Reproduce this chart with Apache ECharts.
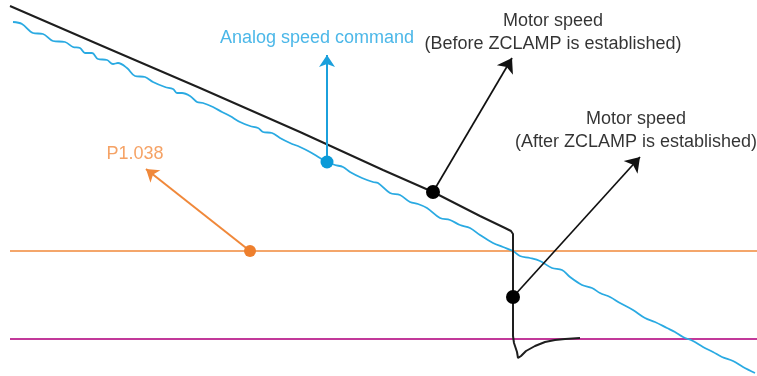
<!DOCTYPE html>
<html>
<head>
<meta charset="utf-8">
<script src="https://cdn.jsdelivr.net/npm/echarts@6/dist/echarts.min.js"></script>
<style>html,body{margin:0;padding:0;background:#fff}#c{width:757px;height:376px}</style>
</head>
<body>
<div id="c"></div>
<script>
// time axis (t) and speed axis (v); v = 0 is the zero-speed reference line
const blueT = [13,22,33,43,53,65,73,80,85,92,98,107,113,118,127,135,145,153,165,173,177,182,190,197,203,213,222,230,240,250,258,263,272,280,290,300,310,320,327,335,343,350,362,373,378,390,400,410,418,427,440,450,460,470,480,493,503,513,520,530,540,552,562,570,582,592,600,610,620,633,645,655,667,675,683,693,703,713,722,733,743,755];
const blueV = [317,315,306,305,298,297,292,291,286,286,280,279,275,276,271,263,262,257,252,250,246,246,243,237,236,232,227,223,217,213,211,207,206,201,196,192,187,181,177,174,172,167,161,157,156,146,144,137,135,131,121,119,114,111,104,96,92,88,83,81,78,71,69,62,54,51,46,42,36,29,21,17,11,7,2,-2,-8,-13,-18,-22,-28,-34];
const blackT = [10,100,200,300,383,433,480,505,511,513,513,514,515,517,518,521,526,535,545,555,565,580];
const blackV = [333,294,251,207,169,147,123,111,108,105,3,-4,-7,-13,-19,-17,-12,-7,-3,-1,0,1];
const p1038T = [10,757];
const p1038V = [88,88];
const zeroT = [10,757];
const zeroV = [0,0];
// annotation anchors: [dotT, dotV, arrowTipT, arrowTipV]
const annCommand = [327,177,327,284];
const annP1038 = [250,88,146,170];
const annBefore = [433,147,512,281];
const annAfter = [513,42,640,182];
// label anchors: [t, v, text]
const labels = [
  [317,301,'Analog speed command','#1ea5e2'],
  [135,185,'P1.038','#f38b3e'],
  [553,306,'Motor speed\n(Before ZCLAMP is established)','#000'],
  [636,208,'Motor speed\n(After ZCLAMP is established)','#000']
];

const zip = (a,b)=>a.map((x,i)=>[x,b[i]]);
const chart = echarts.init(document.getElementById('c'));
const arrow = (a,color,w,size)=>({
  type:'lines', coordinateSystem:'cartesian2d', z:5,
  symbol:['none','arrow'], symbolSize:size,
  lineStyle:{color:color,width:w,opacity:1,curveness:0},
  data:[{coords:[[a[0],a[1]],[a[2],a[3]]]}], silent:true
});
const dot = (a,color,size)=>({
  type:'scatter', z:6, symbol:'circle', symbolSize:size,
  itemStyle:{color:color,opacity:1}, data:[[a[0],a[1]]], silent:true
});
const font = "'Liberation Sans', Arial, sans-serif";
chart.setOption({
  animation:false,
  backgroundColor:'#fff',
  grid:{left:0,right:0,top:0,bottom:0},
  xAxis:{type:'value',min:0,max:757,show:false},
  yAxis:{type:'value',min:-37,max:339,show:false},
  series:[
    {type:'line',data:zip(p1038T,p1038V),symbol:'none',lineStyle:{color:'#f0883a',width:1.5},z:2},
    {type:'line',data:zip(zeroT,zeroV),symbol:'none',lineStyle:{color:'#c2399a',width:2},z:2},
    {type:'line',data:zip(blueT,blueV),symbol:'none',smooth:0.35,lineStyle:{color:'#2aaae2',width:1.8},z:3},
    {type:'line',data:zip(blackT,blackV),symbol:'none',lineStyle:{color:'#1e1e1e',width:2},z:4},
    arrow(annCommand,'#1ba0dc',2,12),
    arrow(annP1038,'#f0883a',2,12),
    arrow(annBefore,'#111',1.7,14),
    arrow(annAfter,'#111',1.7,14),
    dot(annCommand,'#0b9ad8',13),
    dot(annP1038,'#ee7f2d',12),
    dot(annBefore,'#000',14),
    dot(annAfter,'#000',14),
    {type:'scatter',z:7,symbolSize:0,silent:true,
     data:labels.map(l=>({value:[l[0],l[1]],label:{color:l[3]},name:l[2]})),
     label:{show:true,position:'inside',formatter:p=>p.name,fontFamily:font,fontSize:18,lineHeight:23,align:'center',verticalAlign:'middle',textBorderWidth:0,textBorderColor:'transparent'}}
  ]
});
</script>
</body>
</html>
